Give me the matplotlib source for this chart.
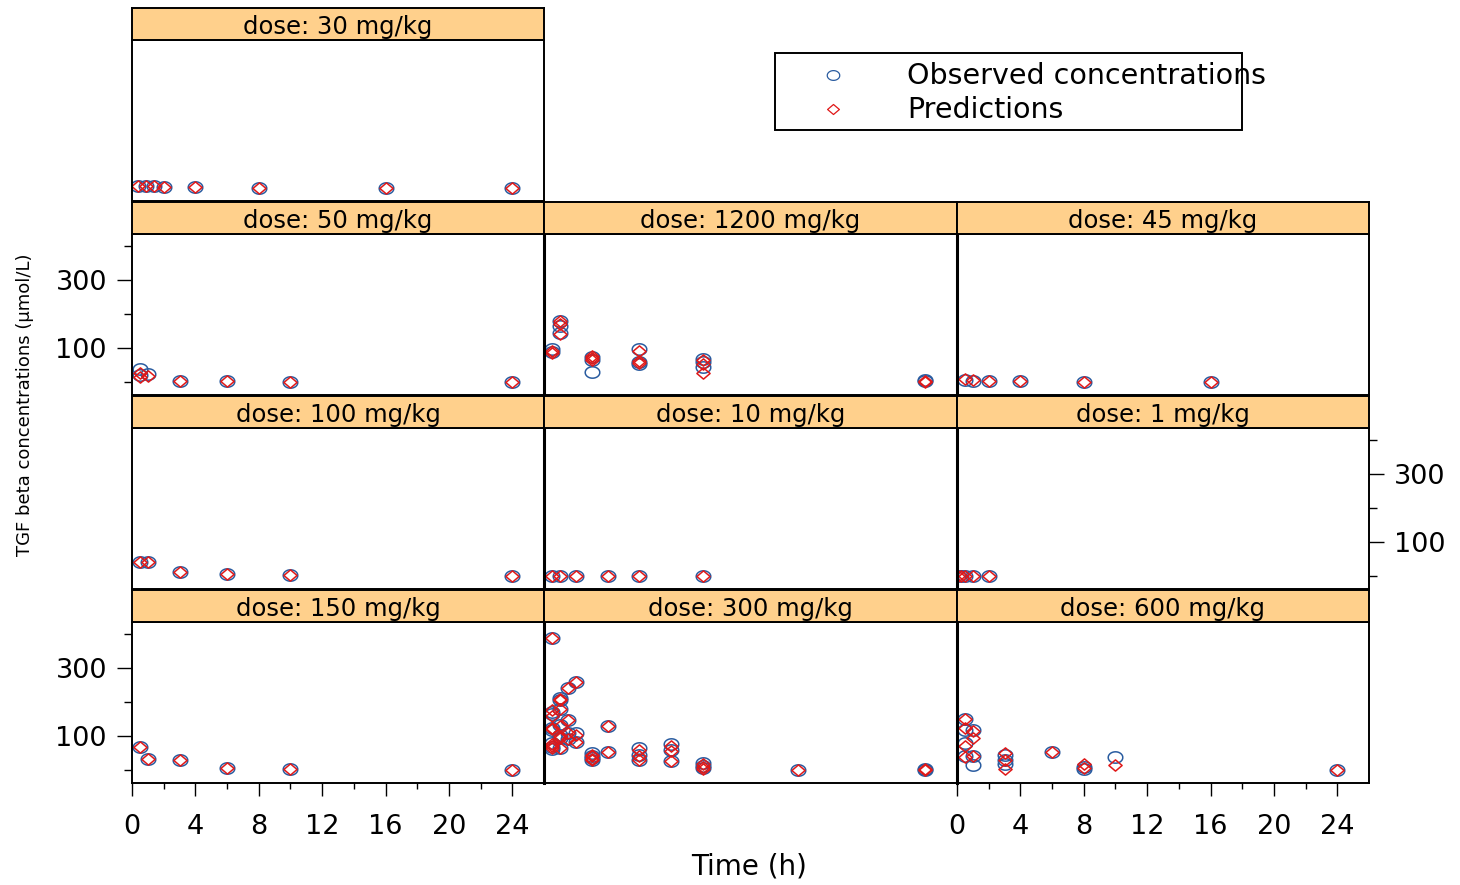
import numpy as np
import matplotlib
matplotlib.use("Agg")
import matplotlib.pyplot as plt
from matplotlib.path import Path
from matplotlib.patches import Rectangle
from matplotlib.lines import Line2D

plt.rcParams['font.family'] = ['DejaVu Sans']

# ---------------- data ----------------
t_30 = [0.4, 0.9, 1.4, 2.0, 4, 8, 16, 24]
obs_30 = [6, 5, 5, 4, 2, 1, 1, 1]
pred_30 = [6, 6, 5, 4, 2, 1, 1, 1]

t_50 = [0.5, 0.5, 1, 3, 6, 10, 24]
obs_50 = [37, 22, 24, 4, 2, 1, 1]
pred_50 = [28, 16, 19, 4, 2, 1, 0]

t_1200 = [0.5, 0.5, 1, 1, 1, 3, 3, 3, 6, 6, 6, 10, 10, 10, 24, 24]
obs_1200 = [96, 89, 180, 165, 145, 75, 30, 65, 96, 60, 53, 68, 58, 45, 5, 2]
pred_1200 = [84, 90, 178, 170, 141, 76, 70, 65, 90, 62, 56, 64, 52, 28, 4, 1]

t_45 = [0.5, 1, 2, 4, 8, 16]
obs_45 = [6, 4, 3, 3, 1, 0]
pred_45 = [9, 5, 4, 3, 1, 0]

t_100 = [0.5, 1, 3, 6, 10, 24]
obs_100 = [42, 42, 12, 6, 3, 1]
pred_100 = [42, 42, 11, 6, 3, 1]

t_10 = [0.5, 1, 2, 4, 6, 10]
obs_10 = [1.5, 1, 1, 0.5, 0.5, 0.5]
pred_10 = [1.5, 1, 1, 0.5, 0.5, 0.5]

t_1 = [0.08, 0.25, 0.5, 1, 2]
obs_1 = [1, 1, 1, 1, 1]
pred_1 = [1, 1, 1, 1, 1]

t_150 = [0.5, 1, 3, 6, 10, 24]
obs_150 = [67, 32, 29, 7, 4, 0]
pred_150 = [67, 32, 29, 7, 4, 0]

t_300 = [0.5] * 8 + [1] * 7 + [1.5] * 4 + [2] * 3 + [3] * 4 + [4] * 2 + [6] * 3 + [8] * 3 + [10] * 3 + [16] + [24] * 2
obs_300 = [387, 172, 165, 125, 118, 80, 68, 62,
           211, 206, 178, 132, 103, 93, 64,
           242, 147, 108, 90,
           258, 108, 83,
           49, 42, 35, 29,
           129, 52,
           64, 44, 29,
           76, 59, 26,
           21, 12, 6,
           1,
           3, 0]
pred_300 = [387, 175, 160, 123, 120, 78, 70, 64,
            206, 210, 180, 128, 100, 95, 66,
            240, 147, 108, 92,
            258, 104, 83,
            45, 40, 33, 30,
            128, 52,
            60, 40, 30,
            70, 56, 26,
            18, 10, 4,
            1,
            2, 0]

t_600 = [0.5] * 4 + [1] * 3 + [3] * 3 + [6] + [8] * 2 + [10] + [24]
obs_600 = [150, 118, 80, 40, 118, 42, 15, 44, 31, 18, 54, 10, 2, 37, 1]
pred_600 = [151, 125, 71, 37, 115, 93, 40, 51, 29, 2, 54, 18, 6, 15, 1]

doses = ["30", "50", "1200", "45", "100", "10", "1", "150", "300", "600"]
x_ticks = [0, 4, 8, 12, 16, 20, 24]
y_ticks = [100, 300]

# ---------------- style ----------------
W, H = 1460, 885
OBS_COL = '#2A5CA0'
PRED_COL = '#E01818'
STRIP_COL = '#FFD08C'

theta = np.linspace(0, 2 * np.pi, 60)
ell_path = Path(np.column_stack([np.cos(theta), 0.78 * np.sin(theta)]))
dia_path = Path([(-1, 0), (0, 0.85), (1, 0), (0, -0.85), (-1, 0)],
                [Path.MOVETO, Path.LINETO, Path.LINETO, Path.LINETO, Path.CLOSEPOLY])

fig = plt.figure(figsize=(W / 100, H / 100), dpi=100)

col_x = [132, 544, 957, 1369]
# (strip top, panel top, panel bottom)
row_y = [(8, 40, 201), (202, 234, 395), (396, 428, 589), (590, 622, 783)]

panel_data = {
    "30": (t_30, obs_30, pred_30, 0, 0),
    "50": (t_50, obs_50, pred_50, 1, 0),
    "1200": (t_1200, obs_1200, pred_1200, 1, 1),
    "45": (t_45, obs_45, pred_45, 1, 2),
    "100": (t_100, obs_100, pred_100, 2, 0),
    "10": (t_10, obs_10, pred_10, 2, 1),
    "1": (t_1, obs_1, pred_1, 2, 2),
    "150": (t_150, obs_150, pred_150, 3, 0),
    "300": (t_300, obs_300, pred_300, 3, 1),
    "600": (t_600, obs_600, pred_600, 3, 2),
}


def frac_rect(x0, x1, y0, y1):
    return [x0 / W, 1 - y1 / H, (x1 - x0) / W, (y1 - y0) / H]


for d in doses:
    t, o, p, r, c = panel_data[d]
    st, pt, pb = row_y[r]
    x0, x1 = col_x[c], col_x[c + 1]
    ax = fig.add_axes(frac_rect(x0, x1, pt, pb))
    ax.set_xlim(0, 26)
    ax.set_ylim(-38, 435)
    ax.plot(t, o, linestyle='none', marker=ell_path, markersize=10.5,
            markerfacecolor='none', markeredgecolor=OBS_COL, markeredgewidth=1.1)
    ax.plot(t, p, linestyle='none', marker=dia_path, markersize=9.5,
            markerfacecolor='none', markeredgecolor=PRED_COL, markeredgewidth=1.1)
    for s in ax.spines.values():
        s.set_linewidth(1.4)
        s.set_color('black')
    if c > 0 and r > 0:
        ax.spines['left'].set_linewidth(2.2)
    # x axis
    if r == 3 and c in (0, 2):
        ax.set_xticks(x_ticks)
        ax.set_xticks([2, 6, 10, 14, 18, 22], minor=True)
        ax.tick_params(axis='x', which='major', direction='out', length=9.5,
                       width=1.0, labelsize=19.5, pad=13)
        ax.tick_params(axis='x', which='minor', direction='out', length=4.5, width=1.0)
    else:
        ax.set_xticks([])
        ax.set_xticks([], minor=True)
    # y axis
    if c == 0 and r in (1, 3):
        ax.set_yticks(y_ticks)
        ax.set_yticks([0, 200, 400], minor=True)
        ax.tick_params(axis='y', which='major', direction='out', length=11,
                       width=1.0, labelsize=19.5, pad=7)
        ax.tick_params(axis='y', which='minor', direction='out', length=6, width=1.0)
    elif c == 2 and r == 2:
        ax.yaxis.tick_right()
        ax.set_yticks(y_ticks)
        ax.set_yticks([0, 200, 400], minor=True)
        ax.tick_params(axis='y', which='major', direction='out', length=11,
                       width=1.0, labelsize=19.5, pad=7, right=True, left=False,
                       labelright=True, labelleft=False)
        ax.tick_params(axis='y', which='minor', direction='out', length=6, width=1.0,
                       right=True, left=False)
    else:
        ax.set_yticks([])
        ax.set_yticks([], minor=True)

    # strip
    sax = fig.add_axes(frac_rect(x0, x1, st, pt))
    sax.set_facecolor(STRIP_COL)
    sax.set_xticks([])
    sax.set_yticks([])
    for s in sax.spines.values():
        s.set_linewidth(1.4)
        s.set_color('black')
    sax.text(0.5, 0.40, f"dose: {d} mg/kg", transform=sax.transAxes,
             ha='center', va='center', fontsize=17.5, color='black')

# legend (drawn by hand to match the overflowing text)
fig.patches.append(Rectangle((775 / W, 1 - 130 / H), (1242 - 775) / W, (130 - 53) / H,
                             transform=fig.transFigure, facecolor='white',
                             edgecolor='black', linewidth=1.4, zorder=5))
fig.lines.append(Line2D([833 / W], [1 - 75 / H], transform=fig.transFigure,
                        linestyle='none', marker=ell_path, markersize=9,
                        markerfacecolor='none', markeredgecolor=OBS_COL,
                        markeredgewidth=0.9, zorder=6))
fig.lines.append(Line2D([833 / W], [1 - 109 / H], transform=fig.transFigure,
                        linestyle='none', marker=dia_path, markersize=8.5,
                        markerfacecolor='none', markeredgecolor=PRED_COL,
                        markeredgewidth=0.9, zorder=6))
fig.text(907 / W, 1 - 76 / H, "Observed concentrations", fontsize=20.5,
         ha='left', va='center', zorder=7)
fig.text(907 / W, 1 - 110 / H, "Predictions", fontsize=20.5,
         ha='left', va='center', zorder=7)

# axis labels
fig.text(749 / W, 1 - 867 / H, "Time (h)", fontsize=20, ha='center', va='center')
fig.text(25 / W, 1 - 405 / H, "TGF beta concentrations (\u00b5mol/L)", fontsize=13,
         rotation=90, ha='center', va='center')

fig.savefig("out.png", dpi=100)
